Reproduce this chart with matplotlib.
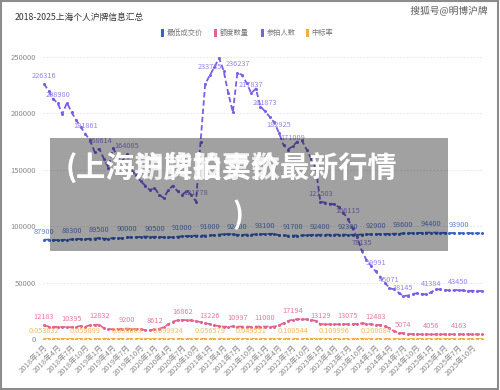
import matplotlib
matplotlib.use('Agg')
import matplotlib.pyplot as plt
import matplotlib.patheffects as pe
from matplotlib.patches import Rectangle

plt.rcParams['font.family'] = ['Noto Sans CJK SC', 'DejaVu Sans']

# 2018-01 .. 2025-12, monthly
tick_labels = ['2018年1月', '2018年4月', '2018年7月', '2018年10月',
               '2019年1月', '2019年4月', '2019年7月', '2019年10月',
               '2020年1月', '2020年4月', '2020年7月', '2020年10月',
               '2021年1月', '2021年4月', '2021年7月', '2021年10月',
               '2022年1月', '2022年4月', '2022年7月', '2022年10月',
               '2023年1月', '2023年4月', '2023年7月', '2023年10月',
               '2024年1月', '2024年4月', '2024年7月', '2024年10月',
               '2025年1月', '2025年4月', '2025年7月', '2025年10月']

price = [87900, 88200, 87600, 87700, 87800, 88000, 88300, 88600, 88700, 88500, 88900, 89000,
         89500, 89000, 88800, 89500, 89500, 89200, 90000, 90200, 90300, 90500, 90800, 90600,
         90500, 90600, 90100, 90100, 90200, 90700, 91000, 91300, 91500, 91600, 91700, 91700,
         91800, 92100, 92600, 92900, 93100, 92700, 92400, 92300, 92500, 92600, 92700, 92800,
         93100, 93200, 93400, 91800, 91900, 91600, 91700, 91700, 91800, 92000, 92300, 92300,
         92400, 92500, 92400, 92500, 92600, 92500, 92300, 92400, 92500, 92600, 92700, 92800,
         92900, 93000, 93100, 93200, 93300, 93400, 93600, 93700, 93900, 94000, 94100, 94300,
         94400, 94300, 94200, 94100, 94000, 93900, 93900, 93800, 93900, 93800, 93700, 93800]

quota = [12183, 11000, 10500, 10800, 10600, 10700, 10395, 10900, 11500, 10900, 12200, 12500,
         12832, 9500, 8800, 8600, 8900, 9100, 9200, 9000, 8800, 8700, 7800, 7600,
         8612, 9000, 10500, 13000, 15500, 16500, 16862, 16700, 16500, 15800, 15000, 14000,
         13226, 12000, 11500, 10900, 11000, 11100, 10997, 11000, 11000, 10794, 11000, 11000,
         11000, 11000, 11000, 12000, 14000, 16000, 17194, 17500, 17600, 17300, 17000, 16000,
         13129, 13000, 13000, 13000, 13000, 13100, 13075, 13200, 13500, 13800, 13600, 13000,
         12483, 12400, 11500, 9500, 7000, 5600, 5074, 4500, 4300, 4200, 4100, 4100,
         4056, 4100, 4150, 4150, 4100, 4150, 4163, 4150, 4150, 4100, 4100, 4100]

bidders = [226316, 220000, 213000, 208980, 199500, 209500, 201000, 194000, 188000, 181861, 176000, 166000,
           168614, 160000, 152000, 169000, 162000, 158000, 164085, 150000, 145000, 140000, 136000, 132000,
           134000, 128000, 125000, 132000, 136000, 131000, 128000, 131000, 128000, 121778, 175000, 226000,
           233735, 241000, 249000, 238000, 218000, 201000, 236237, 234000, 227000, 217837, 222000, 206000,
           201873, 197000, 192000, 182925, 172000, 168000, 171009, 175000, 176000, 168000, 160000, 152000,
           121503, 121000, 120000, 119500, 117000, 112000, 106115, 98000, 90000, 78135, 70000, 65000,
           59991, 55000, 50000, 45071, 44000, 41000, 38145, 38500, 40000, 40500, 40000, 39500,
           41384, 44000, 44000, 43500, 43000, 43200, 43450, 43000, 42500, 42800, 42500, 42600]

rate = [0.053832, 0.0500, 0.0493, 0.0517, 0.0531, 0.0511, 0.0517, 0.0562, 0.0612, 0.059899, 0.0693, 0.0753,
        0.0761, 0.0594, 0.0579, 0.0509, 0.0549, 0.0576, 0.056069, 0.0600, 0.0607, 0.0621, 0.0574, 0.0576,
        0.0643, 0.0703, 0.0840, 0.099924, 0.1140, 0.1260, 0.1317, 0.1275, 0.1289, 0.1297, 0.0857, 0.0619,
        0.056579, 0.0498, 0.0462, 0.0461, 0.0505, 0.0552, 0.0468, 0.0470, 0.0485, 0.049551, 0.0495, 0.0534,
        0.0545, 0.0550, 0.0557, 0.0656, 0.0814, 0.0952, 0.100544, 0.1000, 0.1000, 0.1030, 0.1063, 0.1067,
        0.1081, 0.1074, 0.1083, 0.109996, 0.1111, 0.1170, 0.1232, 0.1347, 0.1500, 0.1766, 0.1943, 0.2000,
        0.208084, 0.2255, 0.2300, 0.2108, 0.1590, 0.1366, 0.1330, 0.1169, 0.1075, 0.1037, 0.1025, 0.1038,
        0.0980, 0.0932, 0.0943, 0.0954, 0.0953, 0.0961, 0.0958, 0.0965, 0.0976, 0.0958, 0.0965, 0.0962]

# which points keep a visible value label
price_lab = [0, 6, 12, 18, 24, 30, 36, 42, 48, 54, 60, 66, 72, 78, 84, 90]
quota_lab = [0, 6, 12, 18, 24, 30, 36, 42, 48, 54, 60, 66, 72, 78, 84, 90]
bidders_lab = [0, 3, 9, 12, 18, 33, 36, 42, 45, 48, 51, 54, 60, 66, 69, 72, 75, 78, 84, 90]
rate_lab = [0, 9, 18, 27, 36, 45, 54, 63, 72]

c_price, c_quota, c_bid, c_rate = '#3563c9', '#e3628e', '#7a5ee6', '#f4ae3d'
l_price, l_quota, l_bid, l_rate = '#5b80d8', '#e9799f', '#9783ee', '#f5b95a'

fig = plt.figure(figsize=(5, 3.9), dpi=100)
ax = fig.add_axes([0.086, 0.1308, 0.88, 0.723])

x = list(range(len(price)))
series = [(price, c_price, l_price, price_lab, None),
          (quota, c_quota, l_quota, quota_lab, None),
          (bidders, c_bid, l_bid, bidders_lab, None),
          (rate, c_rate, l_rate, rate_lab, '{:.6f}')]
for vals, col, lcol, labs, fmt in series:
    ax.plot(x, vals, color=col, lw=1.3, ls=(0, (3, 1.6)), marker='o', ms=2.2,
            markeredgewidth=0, zorder=3)
    for i in labs:
        txt = fmt.format(vals[i]) if fmt else str(vals[i])
        ax.annotate(txt, (i, vals[i]), xytext=(0, 3), textcoords='offset points',
                    ha='center', va='bottom', fontsize=5.3, color=lcol, zorder=4)

ax.set_ylim(0, 250000)
ax.set_xlim(-0.2, 95.3)
ax.set_yticks([0, 50000, 100000, 150000, 200000, 250000])
ax.set_yticklabels(['0', '50000', '100000', '150000', '200000', '250000'])
ax.set_xticks(range(0, 96, 3))
ax.set_xticklabels(tick_labels, rotation=45, ha='right', va='top', rotation_mode='anchor')
ax.tick_params(axis='both', length=0, labelsize=5.5, labelcolor='#8a8a8a')
ax.tick_params(axis='x', pad=3)
ax.tick_params(axis='y', pad=5)
for s in ax.spines.values():
    s.set_visible(False)
ax.grid(axis='y', color='#e3e3e3', lw=0.6, ls=(0, (2, 2)))
ax.set_axisbelow(True)

# title, legend, watermark
fig.text(0.03, 0.955, '2018-2025上海个人沪牌信息汇总', fontsize=6.3, color='#333333',
         ha='left', va='center')
legend = [('最低成交价', c_price, 0.324), ('额度数量', c_quota, 0.430),
          ('参拍人数', c_bid, 0.524), ('中标率', c_rate, 0.614)]
for name, col, lx in legend:
    fig.patches.append(Rectangle((lx - 0.003, 0.905), 0.006, 0.02, transform=fig.transFigure,
                                 facecolor=col, edgecolor='none'))
    fig.text(lx + 0.009, 0.915, name, fontsize=5.2, color='#777777', ha='left', va='center')

fig.text(0.898, 0.972, '搜狐号@明博沪牌', fontsize=7, color='#555555', ha='center', va='center',
         path_effects=[pe.withStroke(linewidth=2, foreground='white')])

# grey overlay banner
fig.patches.append(Rectangle((0.1, 0.3564), 0.796, 0.2897, transform=fig.transFigure,
                             facecolor='black', alpha=0.37, edgecolor='none', zorder=10))
fig.text(0.132, 0.571, '(上海沪牌拍卖价最新行情', fontsize=21, color='white', fontweight='bold',
         ha='left', va='center', zorder=11)
fig.text(0.132, 0.571, '(上海期货股票数', fontsize=21, color='white', fontweight='bold',
         ha='left', va='center', zorder=11, alpha=0.85)
fig.text(0.476, 0.449, ')', fontsize=21, color='white', fontweight='bold',
         ha='center', va='center', zorder=11)

# outer frame
fig.patches.append(Rectangle((0.002, 0.003), 0.994, 0.994, transform=fig.transFigure,
                             facecolor='none', edgecolor='#8c8c8c', lw=1.5, zorder=12))

fig.savefig('out.png', dpi=100)
